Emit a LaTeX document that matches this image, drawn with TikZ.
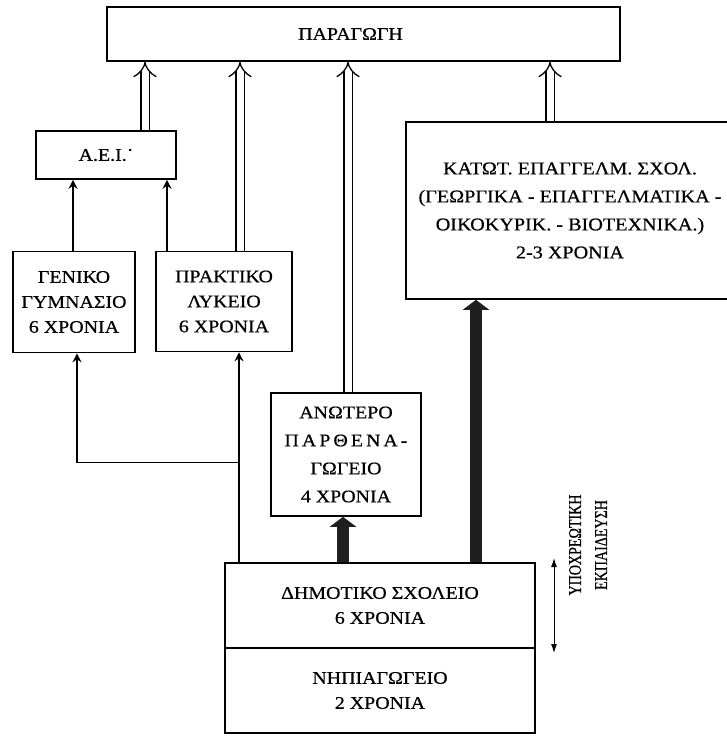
\documentclass[tikz,border=0pt]{standalone}
\usepackage{fontspec}
\setmainfont{Liberation Serif}[FakeStretch=1.12,FakeBold=0.5]
\newfontfamily\narrowfont{Liberation Serif}[FakeStretch=0.78,FakeBold=0.6]
\usetikzlibrary{arrows.meta,calc}
\newcommand\lsp{\kern3pt}
\begin{document}
\begin{tikzpicture}[x=1pt,y=-1pt,
  box/.style={draw,line width=1.6pt,inner sep=0pt,align=center,
    font={\fontsize{17.8}{25}\selectfont}},
  dbl/.style={draw,double,double distance=7pt,line width=1.3pt,
    -{Implies[length=6pt,width=20pt]}},
  thinarr/.style={draw,line width=1.3pt,-{Stealth[length=9pt,width=9pt,inset=3pt]}},
  thickarr/.style={draw,line width=12pt,black!88,-{Triangle[length=10pt,width=26pt]}},
  twoarr/.style={draw,line width=1pt,{Latex[length=9pt,width=6pt]}-{Latex[length=9pt,width=6pt]}}
]
\useasboundingbox (0,0) rectangle (726,736);

\node[box,minimum width=513pt,minimum height=54pt,
  label={[xshift=-13pt,font={\fontsize{17.8}{25}\selectfont}]center:ΠΑΡΑΓΩΓΗ}] (prod) at (363.5,34) {};
\node[box,minimum width=140pt,minimum height=48pt] (aei) at (106,155) {Α.Ε.Ι.\raisebox{0.6ex}{·}};
\node[box,minimum width=122pt,minimum height=101pt] (gen) at (74,302) {ΓΕΝΙΚΟ\\ΓΥΜΝΑΣΙΟ\\6 ΧΡΟΝΙΑ};
\node[box,minimum width=136pt,minimum height=100pt] (prak) at (224,301.5) {ΠΡΑΚΤΙΚΟ\\ΛΥΚΕΙΟ\\6 ΧΡΟΝΙΑ};
\node[box,minimum width=328pt,minimum height=177pt,font={\fontsize{18}{28}\selectfont}] (katot) at (570,210.5)
  {ΚΑΤΩΤ. ΕΠΑΓΓΕΛΜ. ΣΧΟΛ.\\(ΓΕΩΡΓΙΚΑ - ΕΠΑΓΓΕΛΜΑΤΙΚΑ -\\ΟΙΚΟΚΥΡΙΚ. - ΒΙΟΤΕΧΝΙΚΑ.)\\2-3 ΧΡΟΝΙΑ};
\node[box,minimum width=150pt,minimum height=123pt,font={\fontsize{17.8}{28}\selectfont}] (anot) at (346,454.5)
  {ΑΝΩΤΕΡΟ\\Π\lsp Α\lsp Ρ\lsp Θ\lsp Ε\lsp Ν\lsp Α\lsp -\\ΓΩΓΕΙΟ\\4 ΧΡΟΝΙΑ};
\node[box,minimum width=310pt,minimum height=85pt] (dim) at (380,605.5) {ΔΗΜΟΤΙΚΟ ΣΧΟΛΕΙΟ\\6 ΧΡΟΝΙΑ};
\node[box,minimum width=310pt,minimum height=85pt] (nip) at (380,690.5) {ΝΗΠΙΑΓΩΓΕΙΟ\\2 ΧΡΟΝΙΑ};

% double arrows to production
\draw[dbl] ([xshift=39pt]aei.north) coordinate (d1) -- (d1 |- prod.south);
\draw[dbl] ([xshift=16pt]prak.north) coordinate (d2) -- (d2 |- prod.south);
\draw[dbl] ([xshift=2pt]anot.north) coordinate (d3) -- (d3 |- prod.south);
\draw[dbl] ([xshift=-20pt]katot.north) coordinate (d4) -- (d4 |- prod.south);

% thin arrows to AEI
\draw[thinarr] ([xshift=-1pt]gen.north) coordinate (t1) -- (t1 |- aei.south);
\draw[thinarr] ([xshift=-57pt]prak.north) coordinate (t2) -- (t2 |- aei.south);

% thin arrows from primary school
\coordinate (b) at ([xshift=-141pt]dim.north);
\coordinate (j) at ([yshift=100pt]b);
\draw[thinarr] (b) -- (b |- prak.south);
\draw[thinarr] (j) -| ([xshift=3pt]gen.south);

% thick arrows
\draw[thickarr] ([xshift=96pt]dim.north) coordinate (k1) -- (k1 |- katot.south);
\draw[thickarr] ([xshift=-37pt]dim.north) coordinate (k2) -- (k2 |- anot.south);

% compulsory education
\coordinate (u1) at (554,558);
\coordinate (u2) at (554,653);
\draw[twoarr] (u1) -- (u2);
\node[rotate=90,align=center,inner sep=0pt,font={\narrowfont\fontsize{18}{26}\selectfont}] (obl) at (588,545)
  {ΥΠΟΧΡΕΩΤΙΚΗ\\ΕΚΠΑΙΔΕΥΣΗ};
\end{tikzpicture}
\end{document}
